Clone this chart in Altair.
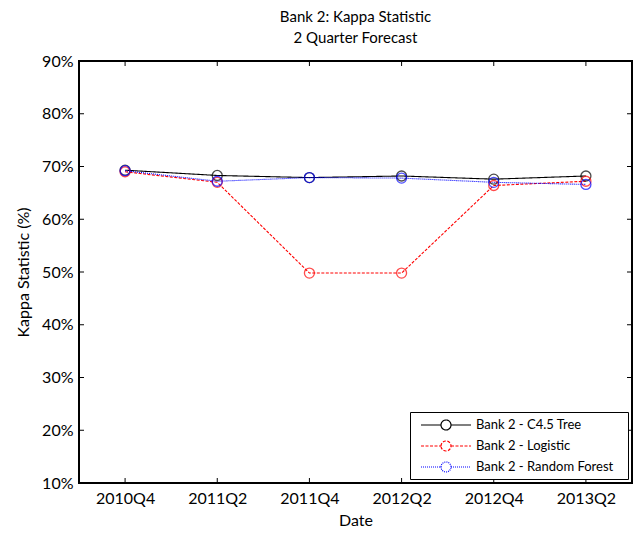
import altair as alt
import pandas as pd

dates = ["2010Q4", "2011Q2", "2011Q4", "2012Q2", "2012Q4", "2013Q2"]
series_names = ["Bank 2 - C4.5 Tree", "Bank 2 - Logistic", "Bank 2 - Random Forest"]
c45 = [69.3, 68.3, 67.9, 68.2, 67.6, 68.2]
logistic = [69.0, 67.0, 49.8, 49.8, 66.4, 67.2]
rforest = [69.2, 67.2, 67.9, 67.8, 67.0, 66.6]
y_ticks = [10, 20, 30, 40, 50, 60, 70, 80, 90]

rows = []
for name, vals in zip(series_names, [c45, logistic, rforest]):
    for d, v in zip(dates, vals):
        rows.append({"Date": d, "Series": name, "Kappa": v / 100})
df = pd.DataFrame(rows)
tick_df = pd.DataFrame({"t": [v / 100 for v in y_ticks]})

W, H = 553, 422
FONT = "Lato"
COLORS = ["#000000", "#ff0000", "#0000ff"]
BLANK = "\u2800"

xscale = alt.Scale(type="point", domain=dates, padding=0.5)
yscale = alt.Scale(domain=[0.1, 0.9], nice=False, zero=False)
color = alt.Color(
    "Series:N",
    scale=alt.Scale(domain=series_names, range=COLORS),
    legend=alt.Legend(
        title=None,
        orient="bottom-right",
        offset=4,
        padding=4,
        strokeColor="black",
        fillColor="white",
        symbolType="M-0.25,0 L2.25,0 M3.5,0 L6,0 M2.25,0 A0.625,0.625 0 1,1 3.5,0 A0.625,0.625 0 1,1 2.25,0",
        symbolSize=256,
        symbolStrokeWidth=1.2,
        symbolFillColor="transparent",
        labelOffset=44,
        labelFontSize=13,
        labelFont=FONT,
        labelColor="black",
        labelExpr="datum.label + '" + BLANK + "'",
        rowPadding=4,
        labelLimit=300,
    ),
)
dash = alt.StrokeDash(
    "Series:N",
    scale=alt.Scale(domain=series_names, range=[[1, 0], [3, 1.5], [1, 1]]),
    legend=None,
)

base = alt.Chart(df)
lines = base.mark_line(strokeWidth=1.1).encode(
    x=alt.X("Date:N", scale=xscale, sort=dates,
            axis=alt.Axis(title="Date", labelAngle=0, ticks=False, domain=False,
                          labelPadding=7, titlePadding=6, grid=False)),
    y=alt.Y("Kappa:Q", scale=yscale,
            axis=alt.Axis(title="Kappa Statistic (%)", format=".0%", values=[v / 100 for v in y_ticks],
                          ticks=False, domain=False, labelPadding=6, titlePadding=10, grid=False)),
    color=color,
    strokeDash=dash,
    order=alt.Order("Date:N"),
)
points = base.mark_point(shape="circle", filled=False, size=100, strokeWidth=1.3).encode(
    x=alt.X("Date:N", scale=xscale, sort=dates),
    y=alt.Y("Kappa:Q", scale=yscale),
    color=alt.Color("Series:N", scale=alt.Scale(domain=series_names, range=COLORS), legend=None),
)

xtick_df = pd.DataFrame({"Date": dates})
xt = alt.Chart(xtick_df)
bottom_ticks = xt.mark_rule(color="black", strokeWidth=1).encode(
    x=alt.X("Date:N", scale=xscale, sort=dates), y=alt.value(H), y2=alt.value(H - 5))
top_ticks = xt.mark_rule(color="black", strokeWidth=1).encode(
    x=alt.X("Date:N", scale=xscale, sort=dates), y=alt.value(0), y2=alt.value(5))
yt = alt.Chart(tick_df)
left_ticks = yt.mark_rule(color="black", strokeWidth=1).encode(
    y=alt.Y("t:Q", scale=yscale), x=alt.value(0), x2=alt.value(5))
right_ticks = yt.mark_rule(color="black", strokeWidth=1).encode(
    y=alt.Y("t:Q", scale=yscale), x=alt.value(W), x2=alt.value(W - 5))

chart = alt.layer(lines, points, bottom_ticks, top_ticks, left_ticks, right_ticks).properties(
    width=W,
    height=H,
    title=alt.TitleParams(["Bank 2: Kappa Statistic", "2 Quarter Forecast"], fontSize=15,
                          fontWeight="normal", font=FONT, lineHeight=21, offset=7, anchor="middle",
                          color="black"),
    padding={"left": 7, "top": 2, "right": 0, "bottom": 0},
    background="white",
).configure_view(stroke="black", strokeWidth=2).configure_axis(
    labelFont=FONT, titleFont=FONT, labelFontSize=16, titleFontSize=16,
    labelColor="black", titleColor="black", titleFontWeight="normal",
)

chart.save("out.html", embed_options={"renderer": "svg", "actions": False})
